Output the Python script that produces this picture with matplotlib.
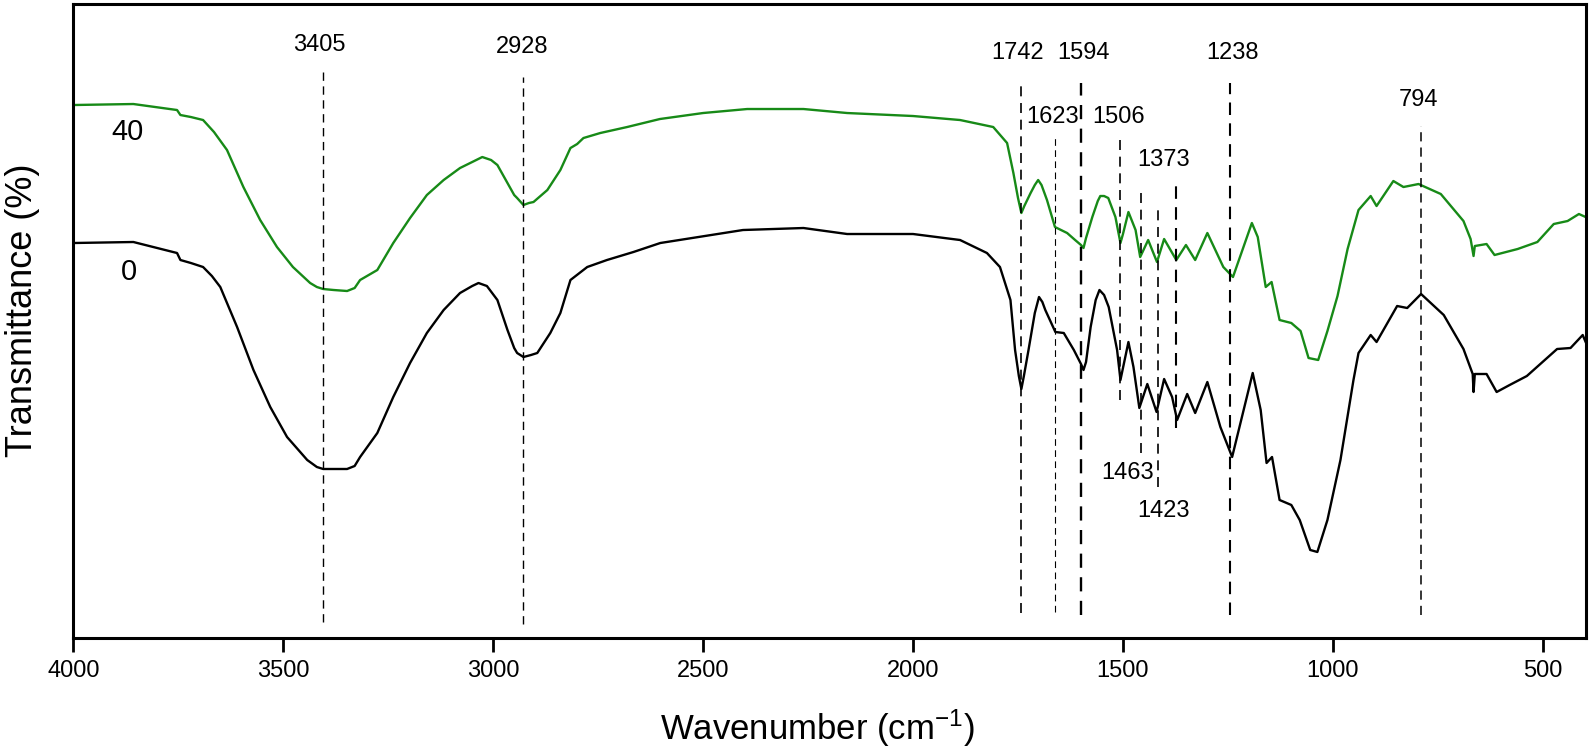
import matplotlib
matplotlib.use("Agg")
import matplotlib.pyplot as plt

plt.rcParams['font.family'] = ['Liberation Sans', 'DejaVu Sans']
plt.rcParams['mathtext.default'] = 'regular'

# ---- data (wavenumber cm-1, transmittance in arbitrary units) ----
wn_40 = [4000, 3857, 3753, 3745, 3720, 3691, 3665, 3634, 3595, 3555, 3515, 3477, 3436, 3420,
         3405, 3380, 3348, 3330, 3317, 3276, 3238, 3198, 3158, 3118, 3079, 3050, 3026, 3005,
         2990, 2966, 2950, 2943, 2928, 2915, 2904, 2871, 2840, 2816, 2800, 2785, 2745, 2681,
         2603, 2500, 2395, 2261, 2157, 2000, 1888, 1809, 1776, 1761, 1750, 1742, 1735, 1720,
         1710, 1702, 1694, 1681, 1662, 1633, 1614, 1600, 1594, 1588, 1573, 1560, 1554, 1545,
         1535, 1518, 1512, 1506, 1500, 1487, 1470, 1459, 1440, 1419, 1402, 1373, 1350, 1328,
         1299, 1261, 1238, 1193, 1179, 1160, 1146, 1127, 1099, 1077, 1058, 1035, 1013, 989,
         965, 939, 910, 896, 856, 832, 796, 743, 689, 672, 665, 662, 634, 615, 560, 513,
         474, 441, 414, 398]
t_40 = [533, 534, 528, 523, 521, 518, 506, 488, 451, 418, 391, 371, 355, 351,
        349, 348, 347, 350, 358, 368, 395, 420, 443, 458, 470, 476, 481, 478,
        473, 455, 443, 440, 433, 435, 436, 448, 468, 490, 494, 500, 505, 511,
        519, 525, 529, 529, 525, 522, 518, 511, 495, 465, 440, 425, 432, 445,
        453, 458, 453, 438, 411, 405, 398, 393, 390, 400, 421, 437, 442, 442,
        440, 421, 408, 395, 404, 426, 408, 381, 398, 376, 399, 378, 393, 378,
        405, 371, 361, 415, 401, 351, 356, 318, 315, 307, 280, 278, 307, 342,
        389, 428, 442, 432, 457, 451, 454, 444, 417, 399, 382, 392, 394, 383, 389, 396,
        414, 417, 424, 421]

wn_0 = [4000, 3857, 3753, 3745, 3720, 3691, 3670, 3650, 3610, 3571, 3531, 3491, 3443, 3420,
        3405, 3380, 3348, 3330, 3317, 3276, 3238, 3198, 3158, 3118, 3079, 3050, 3035, 3015,
        2990, 2966, 2950, 2943, 2928, 2910, 2895, 2864, 2840, 2816, 2776, 2729, 2666, 2602,
        2405, 2261, 2157, 2000, 1888, 1824, 1793, 1768, 1757, 1748, 1742, 1736, 1725, 1710,
        1700, 1692, 1685, 1661, 1641, 1617, 1600, 1594, 1588, 1577, 1565, 1556, 1545, 1534,
        1514, 1506, 1487, 1475, 1461, 1442, 1420, 1402, 1383, 1371, 1347, 1328, 1299, 1268,
        1240, 1191, 1172, 1158, 1145, 1127, 1099, 1079, 1054, 1037, 1013, 982, 951, 939,
        910, 896, 847, 823, 790, 736, 689, 667, 665, 662, 634, 610, 579, 538, 506, 466,
        434, 405, 398]
t_0 = [395, 396, 385, 378, 375, 371, 362, 351, 311, 268, 231, 201, 178, 171,
       169, 169, 169, 172, 181, 205, 241, 275, 305, 328, 345, 352, 355, 352,
       338, 308, 290, 285, 281, 283, 285, 305, 325, 358, 371, 378, 386, 395,
       408, 410, 404, 404, 398, 385, 371, 338, 288, 262, 249, 262, 288, 325,
       341, 336, 328, 306, 305, 288, 274, 268, 276, 311, 338, 348, 343, 331,
       288, 258, 296, 271, 230, 254, 226, 259, 241, 218, 244, 225, 256, 211,
       181, 265, 228, 175, 181, 138, 133, 118, 88, 86, 118, 178, 258, 285,
       303, 296, 332, 330, 344, 323, 289, 264, 246, 264, 264, 246, 253, 262, 274, 289,
       290, 303, 296]

peak_labels = ['3405', '2928', '1742', '1623', '1594', '1506', '1463', '1423', '1373', '1238', '794']
line_pos = [3406, 2928, 1742, 1661, 1601, 1508, 1458, 1417, 1373, 1244, 790]
line_bottom = [16, 14, 25, 26, 23, 238, 185, 151, 210, 23, 23]
line_top = [567, 561, 556, 502, 555, 501, 450, 431, 457, 555, 512]
label_x = [3415, 2931, 1752, 1668, 1594, 1511, 1489, 1404, 1404, 1239, 796]
label_y = [593, 591, 585, 521, 585, 521, 165, 127, 478, 585, 538]
line_w = [1.0, 1.0, 1.2, 0.8, 1.7, 1.2, 1.2, 1.2, 1.5, 1.5, 1.1]

series_names = ['40', '0']
series_label_x = [3872, 3867]
series_label_y = [506, 366]

fig = plt.figure(figsize=(15.91, 7.46), dpi=100)
ax = fig.add_axes([0.0461, 0.1448, 0.9508, 0.8498])

ax.plot(wn_40, t_40, color='#178a17', lw=1.7)
ax.plot(wn_0, t_0, color='black', lw=1.7)

for x, b, t, w in zip(line_pos, line_bottom, line_top, line_w):
    ax.plot([x, x], [b, t], color='black', lw=w, linestyle=(0, (6, 4)))

for lab, x, y in zip(peak_labels, label_x, label_y):
    ax.text(x, y, lab, ha='center', va='center', fontsize=17)

for lab, x, y in zip(series_names, series_label_x, series_label_y):
    ax.text(x, y, lab, ha='center', va='center', fontsize=21)

ax.set_xlim(4000, 397)
ax.set_ylim(0, 634)
ax.set_xticks([4000, 3500, 3000, 2500, 2000, 1500, 1000, 500])
ax.set_yticks([])
ax.tick_params(axis='x', direction='out', length=10, width=2, labelsize=17, pad=6)
for s in ax.spines.values():
    s.set_linewidth(2.2)

ax.set_xlabel('Wavenumber (cm$^{-1}$)', fontsize=25, labelpad=18)
ax.set_ylabel('Transmittance (%)', fontsize=26)
ax.xaxis.label.set_x(0.492)
ax.yaxis.set_label_coords(-0.0222, 0.517)

fig.savefig('out.png', dpi=100)
